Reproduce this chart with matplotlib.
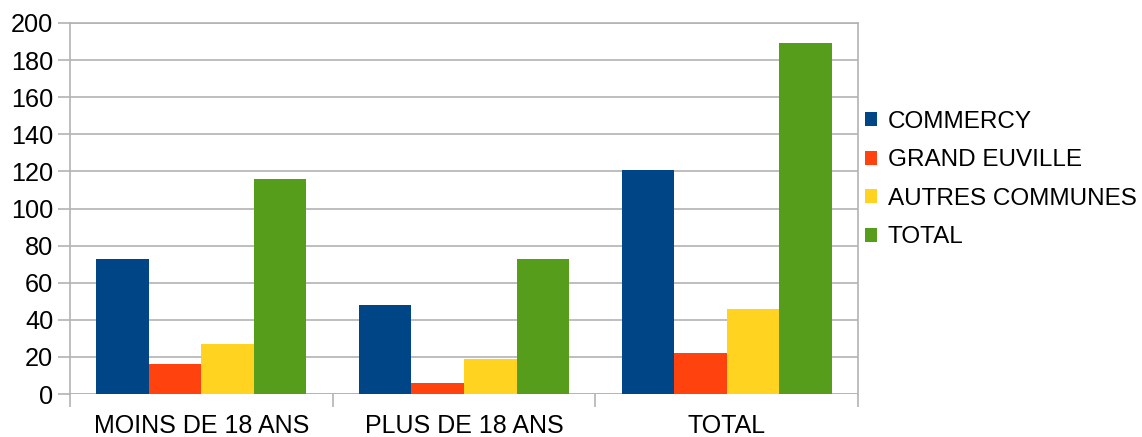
import matplotlib
matplotlib.use("Agg")
import matplotlib.pyplot as plt
import numpy as np

categories = ["MOINS DE 18 ANS", "PLUS DE 18 ANS", "TOTAL"]
series_names = ["COMMERCY", "GRAND EUVILLE", "AUTRES COMMUNES", "TOTAL"]
commercy = [73, 48, 121]
grand_euville = [16, 6, 22]
autres = [27, 19, 46]
total = [116, 73, 189]
colors = ["#004586", "#ff420e", "#ffd320", "#579d1c"]
yticks = list(range(0, 201, 20))

plt.rcParams['font.family'] = ['Liberation Sans', 'DejaVu Sans']

fig = plt.figure(figsize=(11.42, 4.37), dpi=100)
ax = fig.add_axes([70/1142, 1-394/437, (858-70)/1142, (394-23)/437])

x = np.arange(len(categories))
w = 0.2
data = [commercy, grand_euville, autres, total]
for i, (vals, name, c) in enumerate(zip(data, series_names, colors)):
    ax.bar(x + (i - 1.5) * w, vals, width=w, color=c, label=name, zorder=3)

ax.set_xlim(-0.5, len(categories) - 0.5)
ax.set_ylim(0, 200)
ax.set_yticks(yticks)
ax.yaxis.grid(True, color="#b3b3b3", linewidth=1.2, zorder=0)
grid_c = "#b3b3b3"
for s in ax.spines.values():
    s.set_color(grid_c)
    s.set_linewidth(1.2)
ax.spines['bottom'].set_visible(False)
ax.axhline(0, color=grid_c, linewidth=1.2, zorder=2)

ax.set_xticks(x)
ax.set_xticklabels(categories)
ax.set_xticks(np.arange(-0.5, len(categories)), minor=True)
ax.tick_params(axis='x', which='major', length=0, pad=14.5, labelsize=18)
ax.tick_params(axis='x', which='minor', length=9, color=grid_c, width=1.2)
ax.tick_params(axis='y', length=9, color=grid_c, width=1.2, labelsize=18.2, pad=3)

handles, labels = ax.get_legend_handles_labels()
leg = fig.legend(handles, labels, loc='center left', bbox_to_anchor=(855/1142, 1-179.5/437),
                 frameon=False, fontsize=17.5, handlelength=0.52, handleheight=0.52,
                 handletextpad=0.42, labelspacing=0.68, borderaxespad=0)

fig.savefig("out.png", dpi=100)
